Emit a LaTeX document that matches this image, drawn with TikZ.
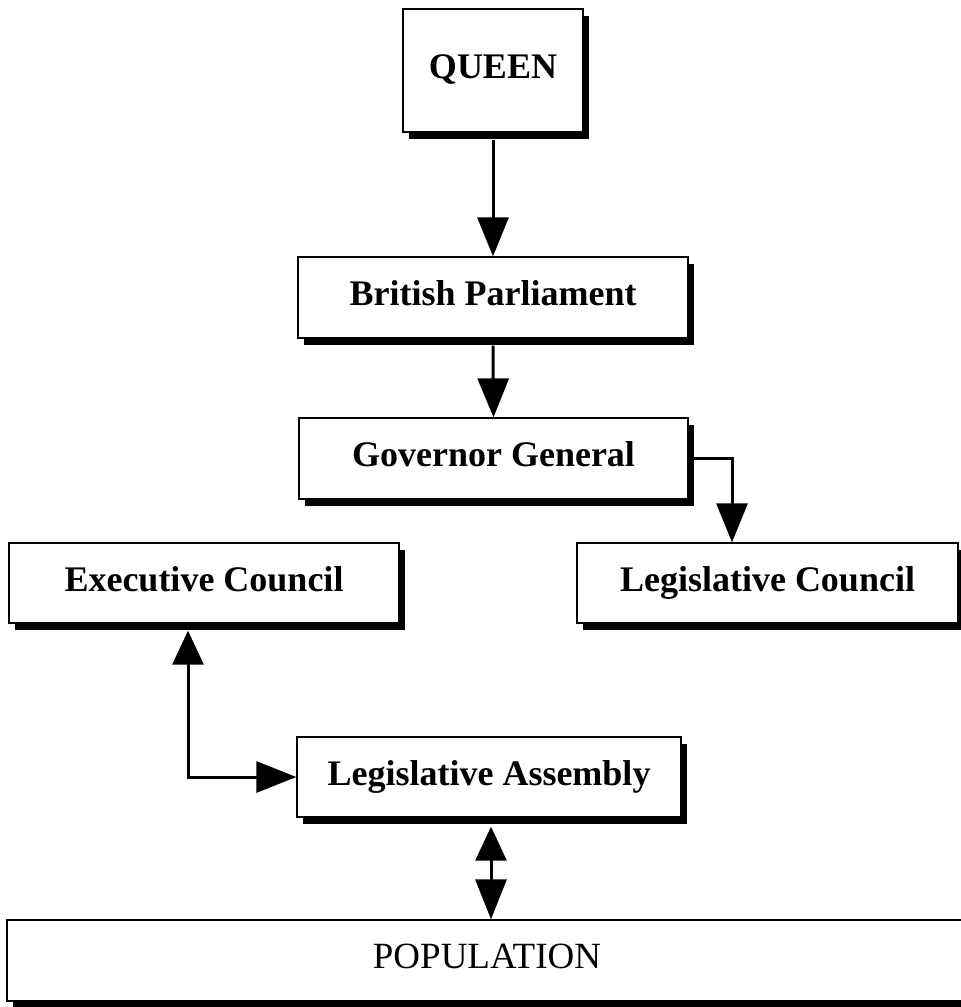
\documentclass[tikz,border=0pt]{standalone}
\usepackage{fontspec}
\setmainfont{Liberation Serif}
\usetikzlibrary{arrows.meta,shadows}
\begin{document}
\begin{tikzpicture}[x=1pt,y=-1pt,
  box/.style={draw=black, line width=1.3pt, fill=white, rectangle, inner sep=0pt,
    text height=24pt, text depth=8pt,
    font=\fontsize{36}{40}\selectfont\bfseries,
    drop shadow={shadow xshift=6pt, shadow yshift=-7pt, fill=black, opacity=1}},
  arr/.style={line width=3pt, -{Triangle[width=31pt,length=39pt]}},
  darr/.style={line width=3pt, {Triangle[width=31pt,length=34pt]}-{Triangle[width=31pt,length=40pt]}},
]
\clip (0,0) rectangle (961,1007);
\fill[white] (0,0) rectangle (961,1007);
\node[box, minimum width=180pt, minimum height=123pt] (q) at (493,70.5) {QUEEN};
\node[box, minimum width=390pt, minimum height=81pt] (bp) at (493,297.5) {British Parliament};
\node[box, minimum width=389pt, minimum height=81pt] (gg) at (493.5,458.5) {Governor General};
\node[box, minimum width=390pt, minimum height=80pt] (ec) at (204,583) {Executive Council};
\node[box, minimum width=381pt, minimum height=80pt] (lc) at (767.5,583) {Legislative Council};
\node[box, minimum width=384pt, minimum height=80pt] (la) at (489,777) {Legislative Assembly};
\node[box, minimum width=960pt, minimum height=81pt, font=\fontsize{37}{40}\selectfont] (pop) at (487,960.5) {POPULATION};

\draw[arr] ([yshift=-7pt]q.south) -- (bp.north);
\draw[arr] ([yshift=-7pt]bp.south) -- (gg.north);
\draw[arr] ([xshift=5pt]gg.east) -| ([xshift=-35.5pt]lc.north);
\draw[darr] ([xshift=-16pt,yshift=-7pt]ec.south) |- (la.west);
\draw[darr] ([xshift=2pt,yshift=-9pt]la.south) -- ([xshift=2pt]la.south |- pop.north);
\end{tikzpicture}
\end{document}
